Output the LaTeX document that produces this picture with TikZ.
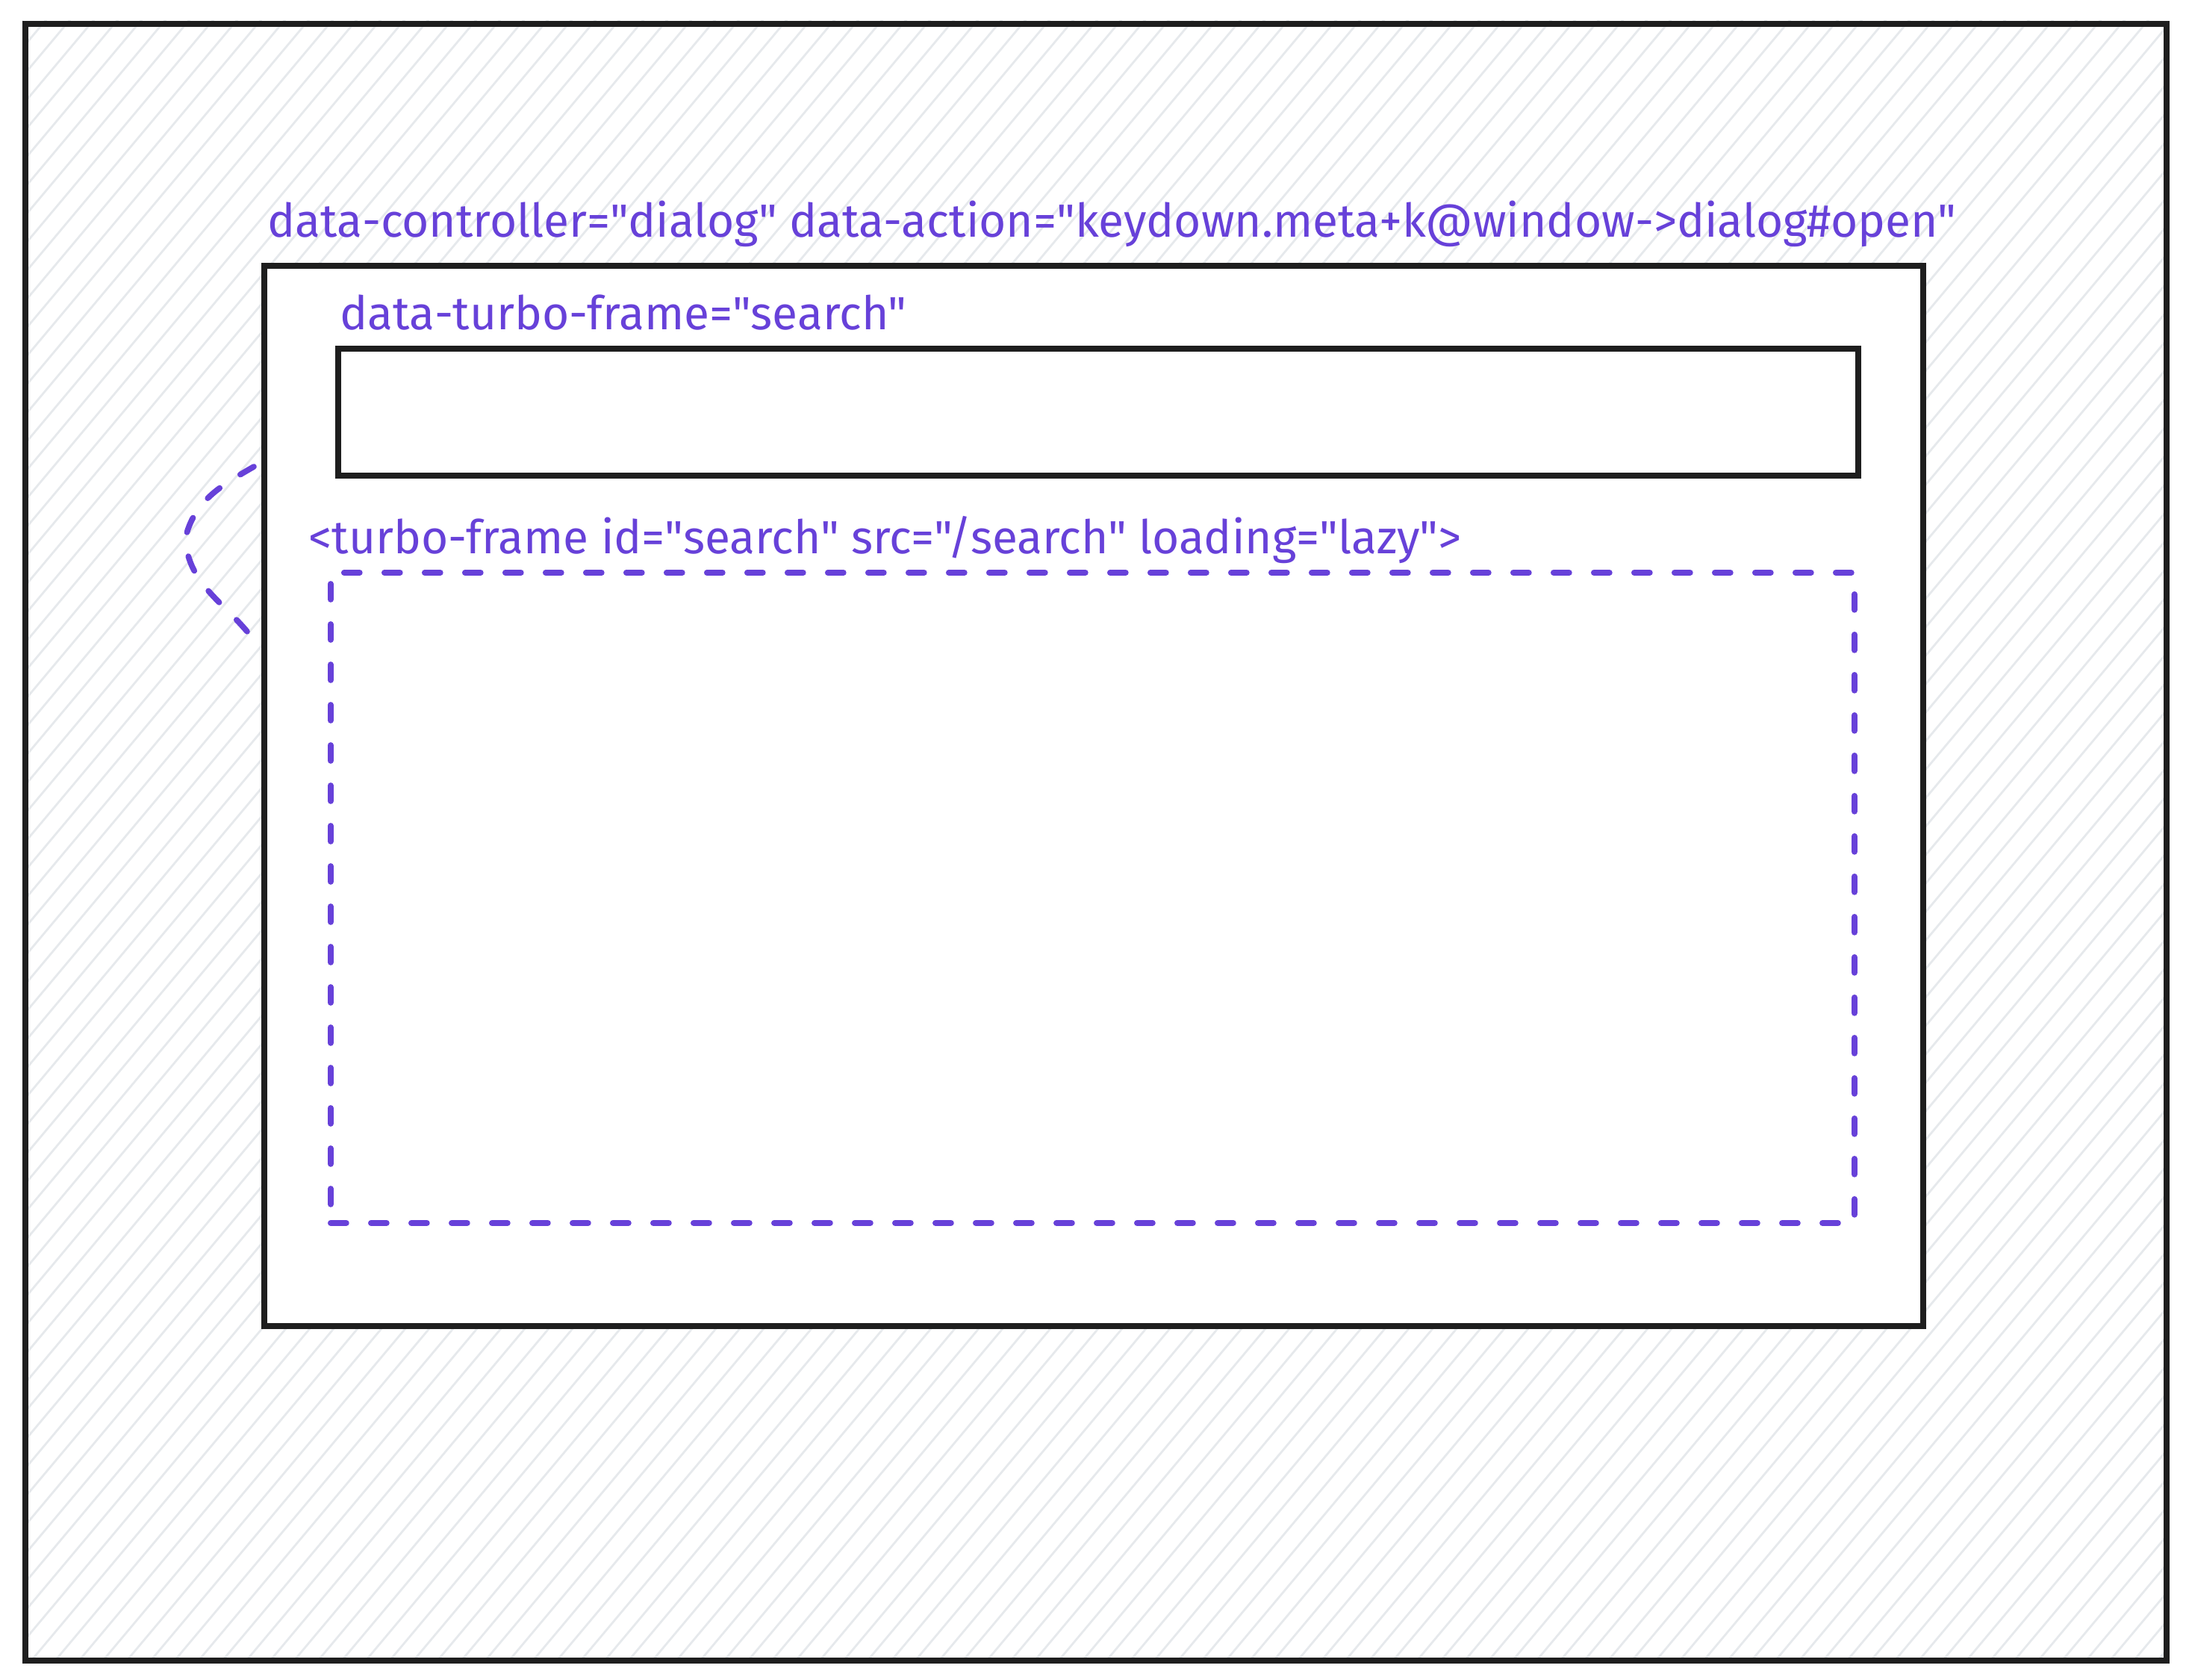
\documentclass[tikz,border=0pt]{standalone}
\usepackage{fontspec}
\setmainfont{Fira Sans}[Ligatures=TeXOff]
\usepackage{tikz}
\usetikzlibrary{positioning,backgrounds}
\definecolor{ink}{HTML}{1E1E1E}
\definecolor{xviolet}{HTML}{6741D9}
\definecolor{hatchgray}{HTML}{E6E9EC}

\begin{document}
\begin{tikzpicture}[
			box/.style={draw=ink, line width=2.2pt, inner sep=0pt, anchor=north west},
			dashbox/.style={draw=xviolet, line width=2.2pt, line cap=round, dash pattern=on 0.21cm off 0.33cm, inner sep=0pt, anchor=north west},
			dashline/.style={draw=xviolet, line width=2.2pt, line cap=round, dash pattern=on 0.21cm off 0.33cm},
			lbl/.style={text=xviolet, font=\fontsize{17.7pt}{21pt}\selectfont, inner sep=0pt, anchor=base west},
			hatchline/.style={draw=hatchgray, line width=0.8pt},
		]
		
			\useasboundingbox (0,0) rectangle (29.28,-22.49);
		
			%Nodes
			\node[box, minimum width=28.68cm, minimum height=21.92cm]				(outer)	at (0.30,-0.28)	{};
			\node[box, fill=white, minimum width=22.22cm, minimum height=14.20cm]	(dialog)	at (3.50,-3.52)	{};
			\node[box, fill=white, minimum width=20.36cm, minimum height=1.70cm]	(input)	at (4.49,-4.63)	{};
			\node[dashbox, minimum width=20.41cm, minimum height=8.71cm]			(frame)	at (4.39,-7.63)	{};
		
			\node[lbl]	(dialoglbl)	at (3.58,-3.18)	{data-controller="dialog" data-action="keydown.meta+k@window->dialog\#open"};
			\node[lbl]	(inputlbl)	at (4.55,-4.41)	{data-turbo-frame="search"};
			\node[lbl]	(framelbl)	at (4.13,-7.41)	{<turbo-frame id="search" src="/search" loading="lazy">};
		
			\coordinate (arctop) at (3.40,-6.25);
			\coordinate (arcbot) at (3.40,-8.57);
		
			%Hatching
			\begin{scope}[on background layer]
				\clip (outer.north west) rectangle (outer.south east);
				\foreach \i in {0,...,150}
					\draw[hatchline] (\i*0.32-19,-22.5) -- ++(50:29.5);
			\end{scope}
		
			%Lines
			\draw[dashline] (arctop) to[out=210, in=77] (2.48,-7.22) to[out=-85, in=127] (arcbot);
		
		\end{tikzpicture}
\end{document}
